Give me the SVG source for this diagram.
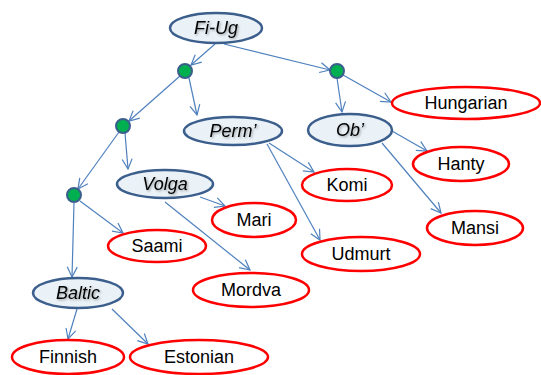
<svg xmlns="http://www.w3.org/2000/svg" width="541" height="375" viewBox="0 0 541 375">
  <style>
    .grp { fill: #EAF2F8; stroke: #3B5E8C; stroke-width: 2.5; }
    .lang { fill: #FFFFFF; stroke: #FF0000; stroke-width: 2.5; }
    .dot { fill: #00B050; stroke: #3B5E8C; stroke-width: 2; }
    .edge { fill: none; stroke: #4F81BD; stroke-width: 1.2; marker-end: url(#arr); }
    text { font-family: "Liberation Sans", Arial, sans-serif; font-size: 18px; fill: #000000; text-anchor: middle; }
    .it { font-style: italic; filter: url(#sh); }
  </style>
  <defs>
    <marker id="arr" viewBox="0 0 12 12" refX="11" refY="6" markerWidth="12" markerHeight="12" markerUnits="userSpaceOnUse" orient="auto">
      <path d="M1,1 L11,6 L1,11" fill="none" stroke="#4F81BD" stroke-width="1.2"/>
    </marker>
    <filter id="sh" x="-20%" y="-20%" width="140%" height="160%">
      <feDropShadow dx="1.2" dy="1.2" stdDeviation="0.8" flood-color="#000000" flood-opacity="0.35"/>
    </filter>
  </defs>

  <g id="connectors">
    <line class="edge" x1="215" y1="44" x2="191" y2="65"/>
    <line class="edge" x1="224" y1="44" x2="330" y2="70"/>
    <line class="edge" x1="180" y1="76" x2="129" y2="121"/>
    <line class="edge" x1="189" y1="78" x2="197" y2="115"/>
    <line class="edge" x1="337" y1="78" x2="342" y2="112"/>
    <line class="edge" x1="343" y1="75" x2="391" y2="102"/>
    <line class="edge" x1="125" y1="133" x2="128" y2="169"/>
    <line class="edge" x1="119" y1="132" x2="78" y2="189"/>
    <line class="edge" x1="269" y1="143" x2="314" y2="172"/>
    <line class="edge" x1="267" y1="144" x2="320" y2="240"/>
    <line class="edge" x1="392" y1="131" x2="427" y2="151"/>
    <line class="edge" x1="382" y1="143" x2="441" y2="213"/>
    <line class="edge" x1="200" y1="197" x2="225" y2="206"/>
    <line class="edge" x1="165" y1="202" x2="250" y2="270"/>
    <line class="edge" x1="80" y1="201" x2="123" y2="233"/>
    <line class="edge" x1="74" y1="203" x2="72" y2="277"/>
    <line class="edge" x1="77" y1="309" x2="68" y2="339"/>
    <line class="edge" x1="112" y1="309" x2="148" y2="344"/>
  </g>

  <g id="fiug"><ellipse class="grp" cx="216" cy="28" rx="46" ry="15"/><text class="it" x="216" y="34">Fi-Ug</text></g>
  <g id="n1"><circle class="dot" cx="185" cy="71" r="7"/></g>
  <g id="n2"><circle class="dot" cx="337" cy="71" r="7"/></g>
  <g id="n3"><circle class="dot" cx="123" cy="126" r="7"/></g>
  <g id="n4"><circle class="dot" cx="74" cy="195" r="7"/></g>
  <g id="perm"><ellipse class="grp" cx="233" cy="131" rx="49" ry="14"/><text class="it" x="233" y="137">Perm’</text></g>
  <g id="ob"><ellipse class="grp" cx="350" cy="130" rx="42" ry="16"/><text class="it" x="350" y="136">Ob’</text></g>
  <g id="volga"><ellipse class="grp" cx="165" cy="184" rx="48" ry="14"/><text class="it" x="165" y="190">Volga</text></g>
  <g id="baltic"><ellipse class="grp" cx="78" cy="293" rx="45" ry="15"/><text class="it" x="78" y="299">Baltic</text></g>

  <g id="hungarian"><ellipse class="lang" cx="466" cy="103" rx="74" ry="16"/><text x="466" y="109">Hungarian</text></g>
  <g id="hanty"><ellipse class="lang" cx="461" cy="164" rx="48" ry="17"/><text x="461" y="170">Hanty</text></g>
  <g id="komi"><ellipse class="lang" cx="347" cy="185" rx="45" ry="16"/><text x="347" y="191">Komi</text></g>
  <g id="mansi"><ellipse class="lang" cx="475" cy="228" rx="48" ry="17"/><text x="475" y="234">Mansi</text></g>
  <g id="udmurt"><ellipse class="lang" cx="361" cy="254" rx="59" ry="17"/><text x="361" y="260">Udmurt</text></g>
  <g id="mari"><ellipse class="lang" cx="254" cy="220" rx="42" ry="17"/><text x="254" y="226">Mari</text></g>
  <g id="saami"><ellipse class="lang" cx="157" cy="246" rx="49" ry="16"/><text x="157" y="252">Saami</text></g>
  <g id="mordva"><ellipse class="lang" cx="251" cy="290" rx="58" ry="17"/><text x="251" y="296">Mordva</text></g>
  <g id="finnish"><ellipse class="lang" cx="68" cy="357" rx="56" ry="17"/><text x="68" y="363">Finnish</text></g>
  <g id="estonian"><ellipse class="lang" cx="199" cy="357" rx="69" ry="17"/><text x="199" y="363">Estonian</text></g>
</svg>
